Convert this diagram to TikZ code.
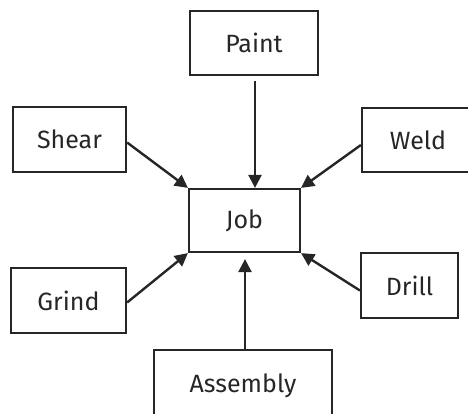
\documentclass[tikz,border=0pt]{standalone}
\usepackage{fontspec}
\newfontfamily\labelfont{Fira Sans}
\usetikzlibrary{arrows.meta}
\definecolor{ink}{HTML}{262626}
\tikzset{
  box/.style={draw=ink, line width=2.2pt, text=ink, inner sep=0pt,
    font=\labelfont\fontsize{25}{29}\selectfont},
  link/.style={draw=ink, line width=2.4pt,
    -{Triangle[length=13pt,width=13pt]}},
}
\begin{document}
\begin{tikzpicture}[x=1pt,y=-1pt]
  \useasboundingbox (0,0) rectangle (468,413);
  \begin{scope}
    \clip (0,0) rectangle (468,413);
    \node[box, minimum width=128pt, minimum height=64pt] (paint) at (254,43) {\raisebox{-2pt}{Paint}};
    \node[box, minimum width=113pt, minimum height=65pt] (shear) at (69.5,139.5) {Shear};
    \node[box, minimum width=112pt, minimum height=64pt] (weld) at (418,140) {Weld};
    \node[box, minimum width=111pt, minimum height=63pt] (job) at (244.5,220.5) {Job};
    \node[box, minimum width=115pt, minimum height=65pt] (grind) at (68.5,300.5) {Grind};
    \node[box, minimum width=97pt, minimum height=65pt] (drill) at (409.5,285.5) {Drill};
    \node[box, minimum width=178pt, minimum height=72pt] (assembly) at (243,386) {Assembly};
  \end{scope}
  \draw[link, shorten <=5pt] (paint.south -| 255,0) -- (job.north -| 255,0);
  \draw[link] ([yshift=-3pt]shear.east) -- (job.north west);
  \draw[link] ([yshift=-5pt]weld.west) -- (job.north east);
  \draw[link] ([yshift=-2pt]grind.east) -- (job.south west);
  \draw[link] ([yshift=-5pt]drill.west) -- (job.south east);
  \draw[link, shorten >=6pt] (assembly.north -| 245,0) -- (job.south -| 245,0);
\end{tikzpicture}
\end{document}
